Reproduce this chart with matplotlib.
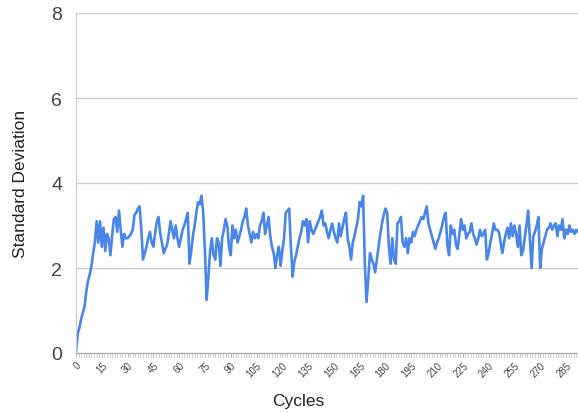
import matplotlib
matplotlib.use("Agg")
import matplotlib.pyplot as plt
from matplotlib.ticker import MultipleLocator

# standard deviation per cycle
std_dev = [
    0.0, 0.45, 0.6, 0.8, 0.95, 1.1, 1.45, 1.7, 1.85, 2.05, 2.35, 2.6,
    3.1, 2.6, 3.1, 2.5, 2.95, 2.4, 2.8, 2.7, 2.3, 2.75, 3.15, 3.2, 2.85, 3.35,
    2.9, 2.5, 2.8, 2.7, 2.7, 2.75, 2.8, 2.9, 3.25, 3.3,
    3.4, 3.45, 2.9, 2.2, 2.35, 2.5, 2.7, 2.85, 2.6, 2.5, 2.8, 3.1, 3.2, 2.8,
    2.6, 2.35, 2.45, 2.55, 2.8, 3.1, 2.9, 2.7, 3.0, 2.7, 2.5, 2.7, 2.9, 3.0,
    3.15, 3.3, 2.1, 2.4, 2.75, 3.0, 3.3, 3.55,
    3.5, 3.7, 3.3, 2.4, 1.25, 1.8, 2.4, 2.7, 2.3, 2.2, 2.7, 2.6, 2.05, 2.7,
    2.9, 3.15, 3.0, 2.5, 2.3, 3.0, 2.7, 2.9, 2.6, 2.75, 2.9, 3.1, 3.2, 3.4,
    3.0, 2.8, 2.6, 2.85, 2.7, 2.8, 2.7, 3.0,
    3.1, 3.3, 2.8, 3.0, 3.2, 2.75, 2.5, 2.35, 2.0, 2.3, 2.5, 2.05, 2.4, 2.7,
    3.3, 3.35, 3.4, 2.5, 1.8, 2.15, 2.3, 2.5, 2.7, 2.85, 3.1, 3.0, 3.15, 2.6,
    3.1, 2.9, 2.8, 2.9, 3.0, 3.1, 3.2, 3.35,
    3.0, 3.05, 2.85, 2.7, 2.9, 3.05, 2.85, 2.7, 2.6, 3.05, 2.75, 2.95, 3.15,
    3.3, 2.7, 2.5, 2.2, 2.6, 2.75, 2.95, 3.15, 3.55, 3.45, 3.7, 2.1, 1.2,
    1.75, 2.35, 2.2, 2.1, 1.9, 2.2, 2.5, 2.8, 3.05, 3.25,
    3.4, 3.3, 2.5, 2.1, 2.7, 2.2, 2.1, 3.05, 3.1, 3.2, 2.6, 2.5, 2.7, 2.35,
    2.7, 2.6, 2.85, 2.75, 2.9, 3.0, 3.1, 3.2, 3.15, 3.3, 3.45, 3.05, 2.9,
    2.75, 2.6, 2.45, 2.6, 2.7, 2.85, 3.0, 3.2, 3.3,
    2.55, 2.3, 3.0, 2.8, 2.9, 2.55, 2.45, 2.8, 3.15, 2.9, 3.0, 2.7, 2.8,
    2.85, 3.05, 2.8, 2.7, 2.55, 2.7, 2.9, 2.75, 2.8, 2.9, 2.2, 2.35, 2.6,
    2.8, 3.05, 2.9, 2.9, 2.85, 2.6, 2.35, 2.6, 2.8, 2.95,
    2.7, 3.05, 2.75, 3.0, 2.8, 2.5, 3.0, 2.3, 2.4, 2.7, 3.0, 3.35, 2.7, 2.0,
    2.75, 2.85, 3.0, 3.2, 2.0, 2.45, 2.6, 2.75, 2.9, 2.95, 3.05, 2.9, 3.0,
    3.05, 2.75, 3.0, 2.9, 3.15, 2.7, 2.9, 2.8, 3.0, 2.85, 2.9, 2.8, 2.9, 2.85,
]
cycles = list(range(len(std_dev)))
x_ticks = list(range(0, 300, 15))
y_ticks = [0, 2, 4, 6, 8]

plt.rcParams['font.family'] = ['Liberation Sans', 'DejaVu Sans']

fig = plt.figure(figsize=(5.78, 4.14), dpi=100)
ax = fig.add_axes([76 / 578, 60 / 414, 502 / 578, 340 / 414])

ax.plot(cycles, std_dev, color='#4a86e8', linewidth=1.9, solid_joinstyle='round')

ax.set_xlim(0, 292)
ax.set_ylim(0, 8)
ax.set_yticks(y_ticks)
ax.set_xticks(x_ticks)
ax.xaxis.set_minor_locator(MultipleLocator(1.5))

ax.grid(axis='y', color='#cccccc', linewidth=1)
ax.set_axisbelow(True)
for side in ['top', 'right']:
    ax.spines[side].set_visible(False)
ax.spines['left'].set_color('#cccccc')
ax.spines['bottom'].set_color('#aaaaaa')

ax.tick_params(axis='y', length=0, pad=10, labelsize=14, labelcolor='#444444')
ax.tick_params(axis='x', which='major', length=3, color='#bbbbbb', pad=2,
               labelsize=7, labelcolor='#444444')
ax.tick_params(axis='x', which='minor', length=3, color='#cccccc', width=0.8)
for lbl in ax.get_xticklabels():
    lbl.set_rotation(45)
    lbl.set_ha('right')
    lbl.set_va('top')
    lbl.set_rotation_mode('anchor')

ax.set_ylabel('Standard Deviation', fontsize=12.5, color='#222222')
ax.yaxis.set_label_coords(-0.095, 0.5)
ax.set_xlabel('Cycles', fontsize=12.5, color='#222222')
ax.xaxis.set_label_coords((298 - 76) / 502, -0.118)

fig.savefig('out.png', dpi=100)
